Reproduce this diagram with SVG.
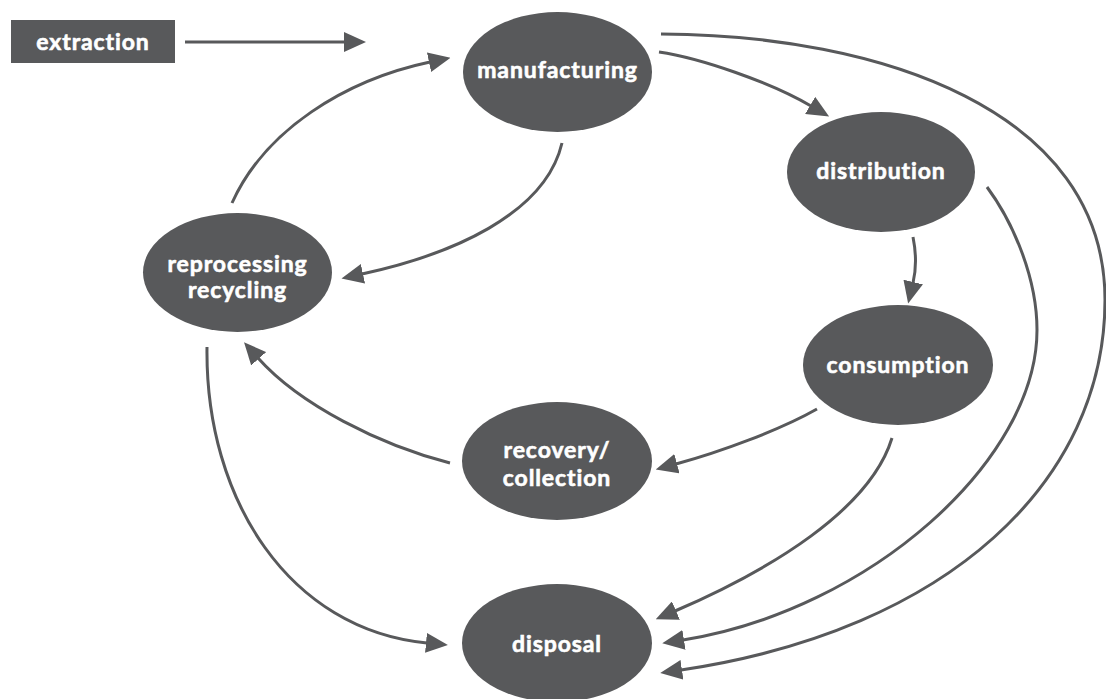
<svg xmlns="http://www.w3.org/2000/svg" width="1106" height="699" viewBox="0 0 1106 699">
<style>
.node{fill:#58595b;}
.lbl{fill:#ffffff;stroke:#ffffff;stroke-width:0.6;font-family:Lato,"Open Sans",sans-serif;font-weight:700;font-size:23px;letter-spacing:0.9px;text-anchor:middle;}
.edge{fill:none;stroke:#58595b;stroke-width:3;marker-end:url(#ah);}
</style>
<defs>
<marker id="ah" markerUnits="userSpaceOnUse" markerWidth="22" markerHeight="20" viewBox="0 0 22 20" refX="1" refY="10" orient="auto">
<path d="M0,0 L22,10 L0,20 z" fill="#58595b"/>
</marker>
</defs>
<rect width="1106" height="699" fill="#ffffff"/>
<g id="connectors">
<path class="edge" d="M185,42 H345"/>
<path class="edge" d="M232,203 C265,130 345,80 430,62"/>
<path class="edge" d="M562,143 C545,215 450,255 362,274"/>
<path class="edge" d="M659,52 C700,58 770,82 811,106"/>
<path class="edge" d="M661,34 C880,35 1105,110 1105,300 C1105,480 950,630 681,670"/>
<path class="edge" d="M987,187 C1015,225 1037,280 1037,330 C1037,460 870,610 683,640"/>
<path class="edge" d="M892,438 C870,510 770,570 675,611"/>
<path class="edge" d="M913,237 Q918,262 913,283"/>
<path class="edge" d="M817,409 C780,430 720,452 676,464"/>
<path class="edge" d="M450,463 C380,445 300,405 258,358"/>
<path class="edge" d="M207,347 C205,500 290,630 427,643"/>
</g>
<g id="extraction">
<rect class="node" x="11" y="20" width="164" height="43"/>
<text class="lbl" x="93" y="50">extraction</text>
</g>
<g id="manufacturing">
<ellipse class="node" cx="557.5" cy="72" rx="94.5" ry="60"/>
<text class="lbl" x="557.5" y="78">manufacturing</text>
</g>
<g id="distribution">
<ellipse class="node" cx="881" cy="172" rx="94" ry="60"/>
<text class="lbl" x="881" y="179">distribution</text>
</g>
<g id="consumption">
<ellipse class="node" cx="898" cy="365" rx="95" ry="60"/>
<text class="lbl" x="898" y="373">consumption</text>
</g>
<g id="reprocessing">
<ellipse class="node" cx="237.5" cy="272.5" rx="94.5" ry="59.5"/>
<text class="lbl" x="237.5" y="272">reprocessing</text>
<text class="lbl" x="237.5" y="298">recycling</text>
</g>
<g id="recovery">
<ellipse class="node" cx="557" cy="461" rx="95" ry="59"/>
<text class="lbl" x="557" y="458">recovery/</text>
<text class="lbl" x="557" y="486">collection</text>
</g>
<g id="disposal">
<ellipse class="node" cx="557" cy="643" rx="95" ry="59"/>
<text class="lbl" x="557" y="652">disposal</text>
</g>
</svg>
